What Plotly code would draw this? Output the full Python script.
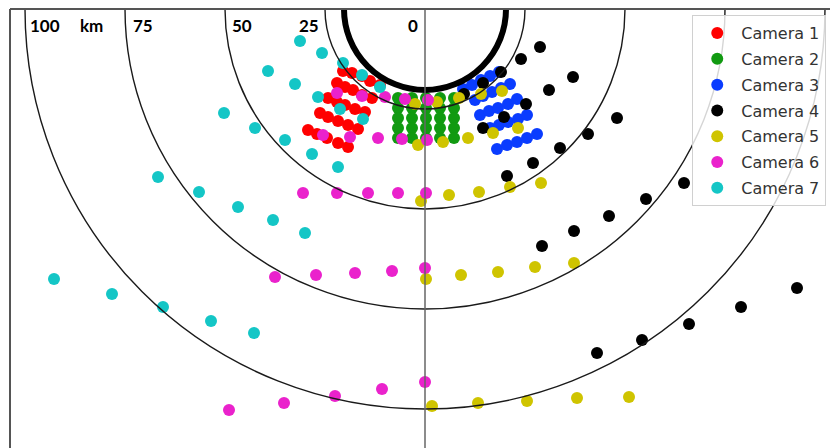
import plotly.graph_objects as go

# ---- data (km, centre of rings at origin) ----
cam1_x = [-20.5, -18.25, -15.75, -13.75, -11.25,
          -22, -20, -18, -15.75, -13.25,
          -24.25, -22, -20, -17.5, -15,
          -26.25, -24.25, -21.75, -19.25, -16.75,
          -29.25, -27, -24.5, -21.75, -19.25]
cam1_y = [-15.5, -16, -16.75, -18, -19,
          -18.5, -19.5, -20.25, -21.5, -22.25,
          -22.25, -23.25, -24, -25, -25.75,
          -26, -27, -28, -29, -30,
          -30.25, -31.25, -32.25, -33.5, -34.5]

cam2_x = [-6.75, -3.25, 0.25, 3.75, 7.25] * 5
cam2_y = [-22.25] * 5 + [-24.75] * 5 + [-27.25] * 5 + [-29.75] * 5 + [-32.25] * 5

cam3_x = [9.5, 11.75, 14, 16.25, 18.5,
          12.5, 14.5, 16.75, 19, 21.25,
          13.75, 16, 18.25, 20.75, 23,
          16.25, 18.5, 20.75, 23.25, 25.5,
          18, 20.5, 23, 25.5, 28]
cam3_y = [-20, -19, -17.75, -16.75, -15.75,
          -22.75, -21.75, -20.75, -19.75, -18.75,
          -26.5, -25.5, -24.75, -23.75, -22.5,
          -29.75, -29, -28.25, -27.5, -26.5,
          -35, -34, -33.25, -32.25, -31.25]

cam4_x = [9.75, 14.5, 19, 24, 28.75,
          14.5, 19.75, 25.25, 31, 37,
          20.5, 27, 33.75, 40.75, 48,
          29.25, 37.25, 46, 55.25, 64.75,
          43, 54.25, 66, 79, 93]
cam4_y = [-21.25, -18.5, -15.75, -12.5, -9.5,
          -29.75, -27, -23.75, -20.25, -17,
          -41.75, -38.5, -34.75, -31.25, -27.25,
          -59.25, -55.5, -51.75, -47.5, -43.5,
          -86, -82.75, -78.75, -74.5, -69.75]

cam5_x = [-2.5, 3, 8.5, 14, 19.25,
          -1.75, 4.5, 10.75, 17, 23.25,
          -1, 6, 13.5, 21.25, 29,
          0.25, 9, 18.25, 27.5, 37.25,
          1.75, 13.25, 25.5, 38, 51]
cam5_y = [-23.75, -23.25, -22.25, -21.25, -20.5,
          -34, -33.25, -32.25, -31, -29.75,
          -48, -46.5, -45.75, -44.5, -43.5,
          -67.5, -66.5, -65.75, -64.5, -63.5,
          -99.25, -98.5, -98, -97.25, -97]

cam6_x = [-22, -15.75, -10, -5, 0.75,
          -25.5, -18.75, -11.75, -5.75, 0.5,
          -30.5, -22, -14.25, -6.75, 0.25,
          -37.5, -27.25, -17.5, -8.25, 0,
          -49, -35.25, -22.5, -10.75, 0]
cam6_y = [-21, -21.75, -22, -22.5, -22.75,
          -31.5, -32, -32.25, -32.5, -32.75,
          -46, -46, -46, -46, -46,
          -67, -66.5, -66, -65.5, -64.75,
          -100.25, -98.5, -96.75, -95, -93.25]

cam7_x = [-31.25, -25.75, -20.5, -15.75, -11.25,
          -39.25, -32.5, -26.75, -21.25, -15.5,
          -50.25, -42.5, -35, -28.25, -21.75,
          -66.75, -56.5, -46.75, -38, -30,
          -92.75, -78.25, -65.5, -53.5, -42.75]
cam7_y = [-8, -11, -13.5, -16.5, -19.5,
          -15.5, -18.75, -22, -25, -27.5,
          -26, -29.75, -32.75, -36.25, -39.5,
          -42, -45.75, -49.5, -52.75, -56,
          -67.5, -71.25, -74.5, -78, -81]

camera_names = ["Camera 1", "Camera 2", "Camera 3", "Camera 4",
                "Camera 5", "Camera 6", "Camera 7"]
camera_colors = ["#ff0000", "#119a11", "#0a3cff", "#000000",
                 "#cfc400", "#ea22cc", "#14c6c6"]

ring_radii = [25, 50, 75, 100]          # km
inner_radius = 20.25                   # km (thick ring)
ring_labels = ["100", "km", "75", "50", "25", "0"]
ring_label_x = [-95, -83.5, -70.5, -45.75, -29, -3]

# ---- figure ----
fig = go.Figure()
xs = [cam1_x, cam2_x, cam3_x, cam4_x, cam5_x, cam6_x, cam7_x]
ys = [cam1_y, cam2_y, cam3_y, cam4_y, cam5_y, cam6_y, cam7_y]
for name, col, x, y in zip(camera_names, camera_colors, xs, ys):
    fig.add_trace(go.Scatter(
        x=x, y=y, mode="markers", name=name, legendgroup=name,
        marker=dict(size=12, color=col, line=dict(width=0)),
    ))

shapes = []
for r in ring_radii:
    shapes.append(dict(type="circle", xref="x", yref="y",
                       x0=-r, x1=r, y0=-r, y1=r,
                       line=dict(color="#1a1a1a", width=1.4), layer="above"))
shapes.append(dict(type="circle", xref="x", yref="y",
                   x0=-inner_radius, x1=inner_radius,
                   y0=-inner_radius, y1=inner_radius,
                   line=dict(color="#000000", width=6), layer="above"))
shapes.append(dict(type="line", xref="x", yref="y", x0=0, x1=0, y0=0, y1=-115,
                   line=dict(color="#666666", width=1.5), layer="above"))
# frame (top and left)
shapes.append(dict(type="line", xref="paper", yref="paper", x0=0, x1=1, y0=1, y1=1,
                   line=dict(color="#555555", width=2), layer="above"))
shapes.append(dict(type="line", xref="paper", yref="paper", x0=0, x1=0, y0=0, y1=1,
                   line=dict(color="#555555", width=2), layer="above"))

annotations = []
for t, x in zip(ring_labels, ring_label_x):
    annotations.append(dict(x=x, y=-4, xref="x", yref="y", text="<b>%s</b>" % t,
                            showarrow=False, xanchor="center", yanchor="middle",
                            font=dict(family="Lato", size=17, color="#000000")))

fig.update_layout(
    width=830, height=448,
    margin=dict(l=10, r=0, t=9, b=0),
    paper_bgcolor="white", plot_bgcolor="white",
    xaxis=dict(range=[-103.75, 101.25], visible=False, showgrid=False, zeroline=False),
    yaxis=dict(range=[-109.75, 0], visible=False, showgrid=False, zeroline=False),
    shapes=shapes, annotations=annotations,
    showlegend=True,
    legend=dict(x=0.832, y=0.986, xanchor="left", yanchor="top",
                bgcolor="rgba(255,255,255,0.82)", bordercolor="#d0d0d0", borderwidth=1,
                font=dict(family="DejaVu Sans", size=16, color="#333333"),
                tracegroupgap=2, itemwidth=38),
)

fig.write_html("out.html")
